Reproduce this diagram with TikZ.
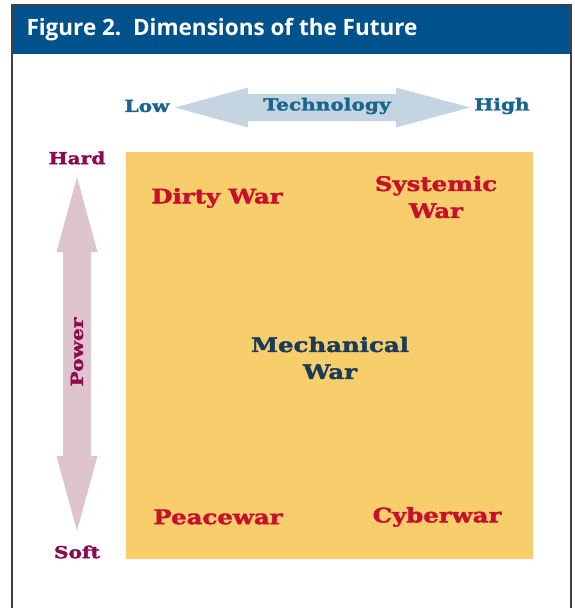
\documentclass[tikz,border=0pt]{standalone}
\usepackage{fontspec}
\setsansfont{Open Sans}
\newfontfamily\slabfont[FakeStretch=1.22, FakeBold=2]{DejaVu Serif Bold}
\usepackage{xcolor}
\usepackage{tikz}

\definecolor{headblue}{RGB}{0,82,140}
\definecolor{techblue}{RGB}{24,102,142}
\definecolor{techfill}{RGB}{196,212,224}
\definecolor{warred}{RGB}{200,16,46}
\definecolor{mechnavy}{RGB}{26,60,88}
\definecolor{powmaroon}{RGB}{140,10,80}
\definecolor{powfill}{RGB}{222,196,205}
\definecolor{fieldorange}{RGB}{248,205,108}

\tikzset{
    axislabel/.style={font=\slabfont\fontsize{16.5}{19}\selectfont},
    warlabel/.style={font=\slabfont\fontsize{20}{27}\selectfont, text=warred, align=center},
}

\begin{document}
\begin{tikzpicture}[x=1pt, y=-1pt]
        \useasboundingbox (0,0) rectangle (574,608);

        % frame and title bar
        \fill[headblue] (12,5) rectangle (571,54);
        \draw[black!75, line width=1.2pt] (12,608) -- (12,5) -- (571,5) -- (571,608);
        \node[anchor=west, text=white, font=\sffamily\bfseries\fontsize{22.5}{26}\selectfont] (title) at (23,30) {Figure 2.\ \ Dimensions of the Future};

        % the field
        \fill[fieldorange] (126,152) rectangle (533,559);

        % technology arrow
        \fill[techfill] (175,107.5) -- (248,87.5) -- (248,94) -- (396,94) -- (396,87.5)
            -- (470,107.5) -- (396,127.5) -- (396,121) -- (248,121) -- (248,127.5) -- cycle;
        \node[axislabel, text=techblue] (low) at (147,106) {Low};
        \node[axislabel, text=techblue] (tech) at (327,106) {Technology};
        \node[axislabel, text=techblue] (high) at (502,106) {High};

        % power arrow
        \fill[powfill] (77,177) -- (97.5,252) -- (91,252) -- (91,456) -- (97.5,456)
            -- (77,531) -- (56.5,456) -- (63,456) -- (63,252) -- (56.5,252) -- cycle;
        \node[axislabel, text=powmaroon] (hard) at (77,158) {Hard};
        \node[axislabel, text=powmaroon, rotate=90] (power) at (77,352) {Power};
        \node[axislabel, text=powmaroon] (soft) at (77,552) {Soft};

        % kinds of war
        \node[warlabel] (dirty) at (217,198) {Dirty War};
        \node[warlabel] (systemic) at (436,197) {Systemic\\War};
        \node[warlabel, text=mechnavy] (mech) at (330,358) {Mechanical\\War};
        \node[warlabel] (peace) at (218,517) {Peacewar};
        \node[warlabel] (cyber) at (437,517) {Cyberwar};
    \end{tikzpicture}
\end{document}
